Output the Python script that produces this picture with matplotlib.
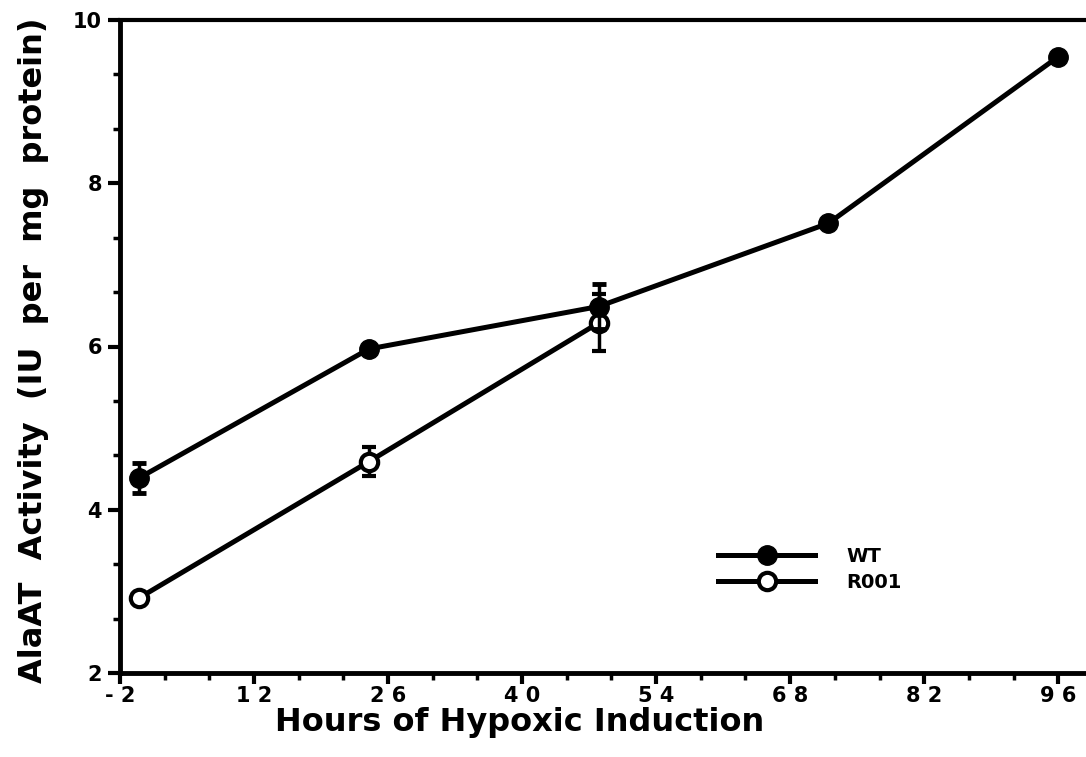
import matplotlib
matplotlib.use("Agg")
import matplotlib.pyplot as plt
from matplotlib.ticker import FixedLocator
from matplotlib.lines import Line2D

# ---- data ----
wt_hours = [0, 24, 48, 72, 96]
wt_vals = [4.39, 5.97, 6.49, 7.51, 9.55]
wt_err = [0.18, 0.0, 0.27, 0.0, 0.0]

r001_hours = [0, 24, 48]
r001_vals = [2.92, 4.59, 6.29]
r001_err = [0.05, 0.18, 0.35]

x_ticks = [-2, 12, 26, 40, 54, 68, 82, 96]
x_ticklabels = ["- 2", "1 2", "2 6", "4 0", "5 4", "6 8", "8 2", "9 6"]
y_ticks = [2, 4, 6, 8, 10]
y_ticklabels = ["2", "4", "6", "8", "10"]

xlabel = "Hours of Hypoxic Induction"
ylabel = "AlaAT  Activity  (IU  per  mg  protein)"
series_names = ["WT", "R001"]

FONT = ["DejaVu Sans"]
plt.rcParams["font.family"] = FONT
plt.rcParams["font.weight"] = "bold"

fig = plt.figure(figsize=(10.86, 7.57), dpi=100)
ax = fig.add_axes([120 / 1086, 84 / 757, 1 - 120 / 1086, (673 - 20) / 757])

lw = 3.6
ax.errorbar(wt_hours, wt_vals, yerr=wt_err, color="black", lw=lw,
            marker="o", ms=14, mfc="black", mec="black",
            ecolor="black", elinewidth=2.5, capsize=5, capthick=3.5,
            zorder=3)
ax.errorbar(r001_hours, r001_vals, yerr=r001_err, color="black", lw=lw,
            marker="o", ms=12.5, mfc="white", mec="black", mew=3,
            ecolor="black", elinewidth=2.5, capsize=5, capthick=3.5,
            zorder=2)

ax.set_xlim(-2, 98.9)
ax.set_ylim(2, 10)

ax.xaxis.set_major_locator(FixedLocator(x_ticks))
ax.set_xticklabels(x_ticklabels)
ax.xaxis.set_minor_locator(FixedLocator(
    [t + k * 14 / 3 for t in x_ticks for k in (1, 2)]))
ax.yaxis.set_major_locator(FixedLocator(y_ticks))
ax.set_yticklabels(y_ticklabels)
ax.yaxis.set_minor_locator(FixedLocator(
    [t + k * 2 / 3 for t in y_ticks[:-1] for k in (1, 2)]))

ax.tick_params(axis="x", which="major", direction="out", length=8, width=3,
               labelsize=15, pad=1)
ax.tick_params(axis="y", which="major", direction="out", length=9, width=3,
               labelsize=15, pad=4)
ax.tick_params(axis="both", which="minor", direction="out", length=5, width=2.5)
for lab in ax.get_xticklabels() + ax.get_yticklabels():
    lab.set_fontweight("bold")

ax.spines["right"].set_visible(False)
ax.spines["left"].set_linewidth(3.5)
ax.spines["bottom"].set_linewidth(3.5)
ax.spines["top"].set_linewidth(3)

ax.set_xlabel(xlabel, fontsize=23, fontweight="bold")
ax.xaxis.set_label_coords((520 - 120) / 966, -0.052)
ax.set_ylabel(ylabel, fontsize=23, fontweight="bold")
ax.yaxis.set_label_coords(-0.074, 0.495)

handles = [
    Line2D([], [], color="black", lw=lw, marker="o", ms=14, mfc="black", mec="black"),
    Line2D([], [], color="black", lw=lw, marker="o", ms=12.5, mfc="white",
           mec="black", mew=3),
]
ax.legend(handles, series_names, loc="upper left",
          bbox_to_anchor=((718 - 120) / 966, (673 - 547) / 653),
          frameon=False, borderaxespad=0, borderpad=0,
          prop={"weight": "bold", "size": 14},
          handlelength=5.0, labelspacing=0.35, handletextpad=1.6)

fig.savefig("out.png", dpi=100)
